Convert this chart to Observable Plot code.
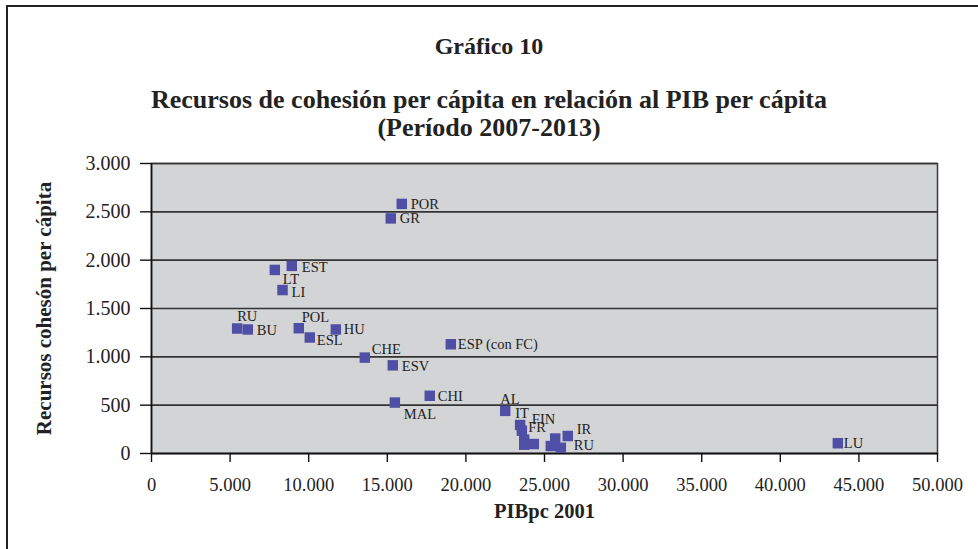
<!DOCTYPE html>
<html>
<head>
<meta charset="utf-8">
<script src="https://cdn.jsdelivr.net/npm/d3@7"></script>
<script src="https://cdn.jsdelivr.net/npm/@observablehq/plot@0.6"></script>
<style>
  html, body { margin: 0; padding: 0; background: #fff; }
  #page { position: relative; width: 978px; height: 549px; overflow: hidden; background: #fff;
          font-family: "Liberation Serif", "Times New Roman", serif; color: #222; }
  #border { position: absolute; left: 6px; top: 5px; width: 1000px; height: 600px;
            border-left: 2.5px solid #222; border-top: 2.5px solid #222; }
  .t { position: absolute; left: 0; width: 978px; text-align: center; font-weight: bold; white-space: nowrap; }
  #chart { position: absolute; left: 0; top: 156px; }
  #chart svg { overflow: visible; }
</style>
</head>
<body>
<div id="page">
  <div id="border"></div>
  <div class="t" id="t1" style="top:34px;font-size:24px;line-height:24px;">Gráfico 10</div>
  <div class="t" id="t2" style="top:87px;font-size:26px;line-height:26px;">Recursos de cohesión per cápita en relación al PIB per cápita</div>
  <div class="t" id="t3" style="top:115px;font-size:26px;line-height:26px;">(Período 2007-2013)</div>
  <div id="chart"></div>
</div>
<script>
// ---- data ----
const countries = ["Portugal","Grecia","Estonia","Letonia","Lituania","Rumanía","Bulgaria","Polonia",
  "Eslovaquia","Hungría","República Checa","Eslovenia","España","Chipre","Malta","Alemania","Italia",
  "Finlandia","Francia","Irlanda","Reino Unido","Luxemburgo","Bélgica","Países Bajos","Austria","Suecia"];
const labels = ["POR","GR","EST","LT","LI","RU","BU","POL","ESL","HU","CHE","ESV","ESP (con FC)","CHI","MAL",
  "AL","IT","FIN","FR","IR","RU","LU","","","",""];
const pibpc2001 = [15920,15220,8925,7845,8335,5450,6125,9370,10070,11725,13570,15350,19040,17700,15480,
  22500,23450,23560,23710,26480,26040,43660,23710,24320,25680,25400];
const recursos = [2582,2432,1941,1899,1691,1293,1283,1296,1200,1283,992,912,1130,597,527,
  441,295,236,143,181,59,106,91,98,155,77];
const xTicks = [0,5000,10000,15000,20000,25000,30000,35000,40000,45000,50000];
const yTicks = [0,500,1000,1500,2000,2500,3000];
const xTitle = "PIBpc 2001";
const yTitle = "Recursos cohesón per cápita";

// ---- label placement (pixel offsets from marker centre) ----
const labelOffset = {
  "Portugal":[9,0],"Grecia":[9,0],"Estonia":[10,1],"Letonia":[8,9],"Lituania":[9,2],"Rumanía":[0,-12],
  "Bulgaria":[9,1],"Polonia":[3,-11],"Eslovaquia":[7,3],"Hungría":[8,0],"República Checa":[7,-8],
  "Eslovenia":[9,1],"España":[7,0],"Chipre":[8,1],"Malta":[9,12],"Alemania":[-5,-12],"Italia":[-5,-12],
  "Finlandia":[10,-11],"Francia":[4,-12],"Irlanda":[9,-7],"Reino Unido":[13,-2],"Luxemburgo":[6,0]
};

const data = countries.map((c, i) => ({country: c, label: labels[i], x: pibpc2001[i], y: recursos[i]}));
const fmt = d3.formatLocale({decimal: ",", thousands: ".", grouping: [3], currency: ["", ""]}).format(",d");

const labelMarks = data.filter(d => d.label).map(d => Plot.text([d], {
  x: "x", y: "y", text: "label", textAnchor: "start",
  dx: labelOffset[d.country][0], dy: labelOffset[d.country][1],
  fontSize: 14.5, fill: "#222"
}));

const chart = Plot.plot({
  width: 978,
  height: 393,
  marginTop: 7,
  marginBottom: 96,
  marginLeft: 151,
  marginRight: 41,
  style: {fontFamily: "Liberation Serif, Times New Roman, serif", fontSize: "18px", color: "#222", background: "transparent", overflow: "visible"},
  x: {domain: [0, 50000], label: null},
  y: {domain: [0, 3000], label: null},
  marks: [
    Plot.frame({fill: "#d3d4d6", stroke: "#3a3a3a", strokeWidth: 1.5}),
    Plot.ruleY(yTicks, {stroke: "#333", strokeWidth: 1.6}),
    Plot.axisX({ticks: xTicks, tickFormat: fmt, tickSize: 9, tickPadding: 15, stroke: "#111", strokeWidth: 1.4, fontSize: 18.5, label: null}),
    Plot.axisY({ticks: yTicks, tickFormat: fmt, tickSize: 11, tickPadding: 10, stroke: "#111", strokeWidth: 1.4, fontSize: 20, label: null}),
    Plot.ruleY([0], {stroke: "#111", strokeWidth: 1.6}),
    Plot.ruleX([0], {stroke: "#111", strokeWidth: 1.6}),
    Plot.dot(data, {x: "x", y: "y", symbol: "square", r: 5.9, fill: "#4f4fa5", stroke: null}),
    ...labelMarks,
    Plot.text([xTitle], {frameAnchor: "bottom", dy: 64, fontWeight: "bold", fontSize: 20.5, fill: "#222"}),
    Plot.text([yTitle], {frameAnchor: "left", textAnchor: "middle", dx: -107, rotate: -90, fontWeight: "bold", fontSize: 21, fill: "#222"})
  ]
});
document.getElementById("chart").appendChild(chart);
</script>
</body>
</html>
